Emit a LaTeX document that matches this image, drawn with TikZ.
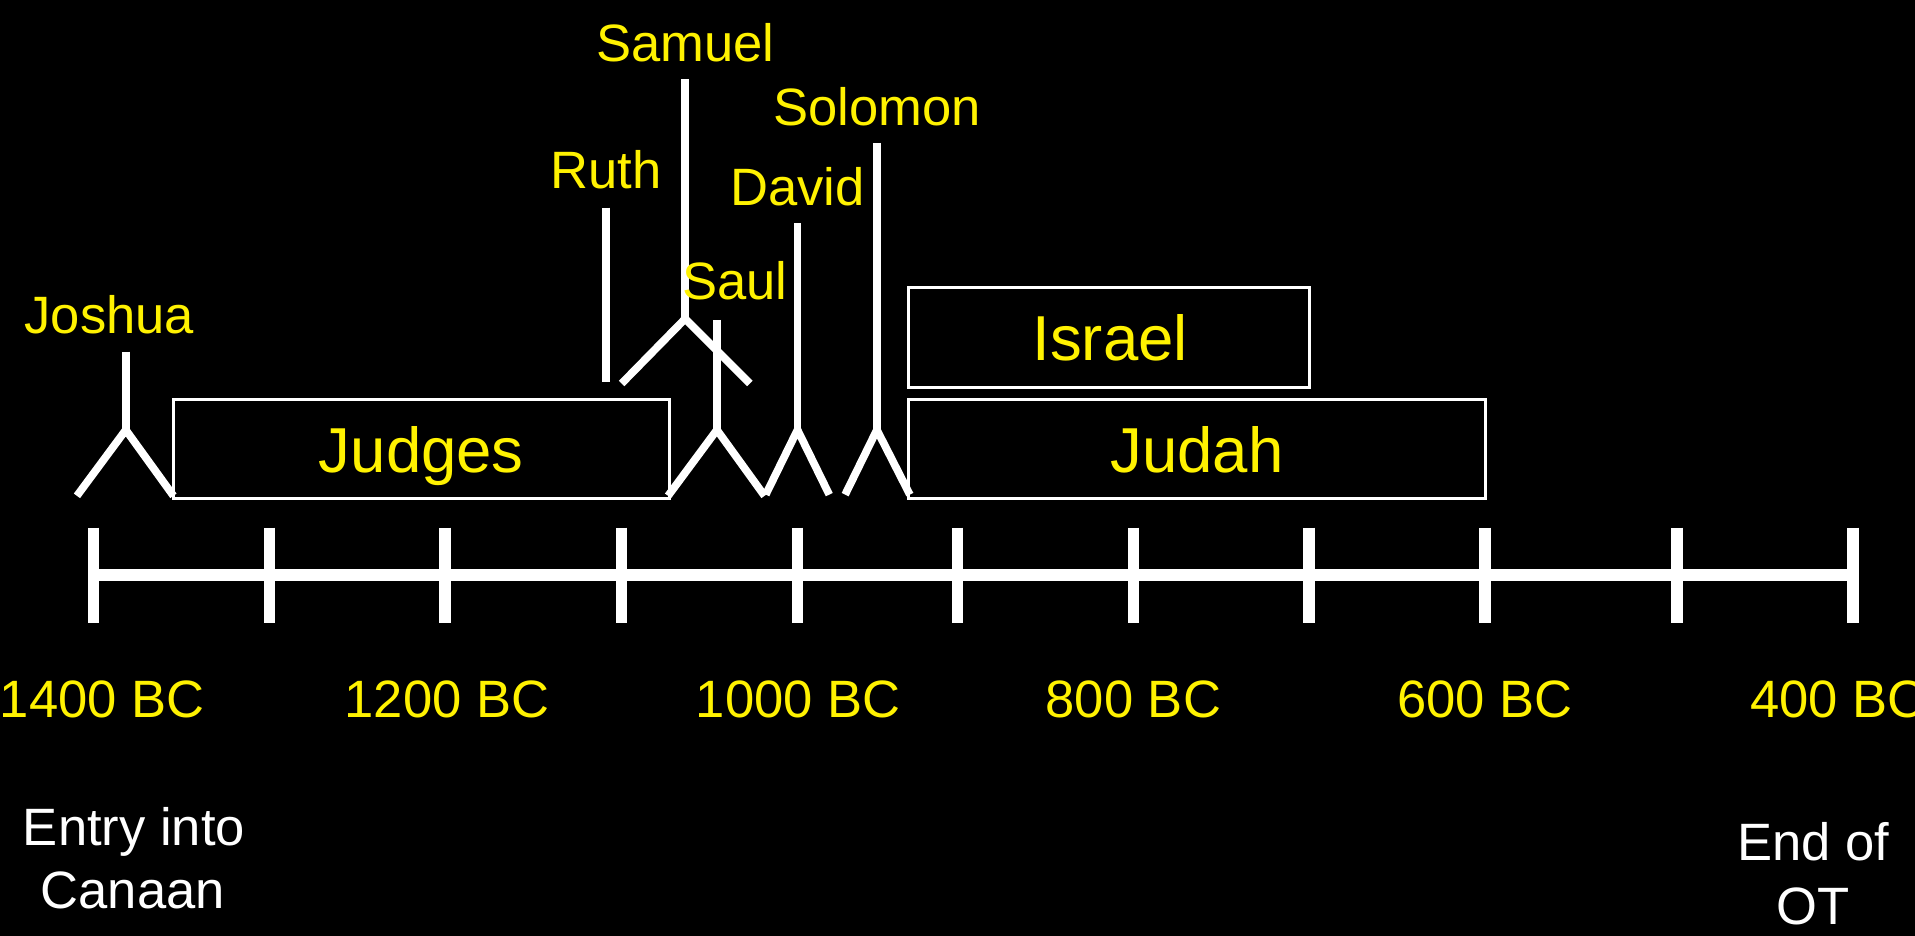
\documentclass[tikz,border=0pt]{standalone}
\usepackage{fontspec}
\setmainfont{Liberation Sans}
\begin{document}
\begin{tikzpicture}[x=0.02cm,y=-0.02cm,
  stick/.style={draw=white, line width=3.6pt},
  bar/.style={draw=white, line width=5.7pt},
  tickmark/.style={draw=white, line width=5.4pt},
  era/.style={draw=white, line width=1.4pt, fill=black, inner sep=0pt},
  who/.style={text=yellow, font=\fontsize{24.5}{29}\selectfont, anchor=base, inner sep=0pt},
  note/.style={text=white, font=\fontsize{24.5}{29}\selectfont, anchor=base, inner sep=0pt},
  eralbl/.style={text=yellow, font=\fontsize{29.6}{35}\selectfont, anchor=base, inner sep=0pt}]
\fill[black] (0,0) rectangle (1568,766);
\useasboundingbox (0,0) rectangle (1568,766);

% era boxes
\node[era, minimum width=8.12cm, minimum height=1.62cm] (judgesbox) at (345,367.5) {};
\node[era, minimum width=6.56cm, minimum height=1.64cm] (israelbox) at (908,276) {};
\node[era, minimum width=9.44cm, minimum height=1.62cm] (judahbox) at (980,367.5) {};
\node[eralbl] (judges) at (345,387) {Judges};
\node[eralbl] (israel) at (909,295.5) {Israel};
\node[eralbl] (judah) at (980,387) {Judah};

% stick figures
\coordinate (jo-t) at (103,288); \coordinate (jo-j) at (103,352);
\coordinate (jo-l) at (63,406);  \coordinate (jo-r) at (142,406);
\draw[stick] (jo-t) -- (jo-j); \draw[stick] (jo-l) -- (jo-j) -- (jo-r);

\coordinate (ru-t) at (496,170); \coordinate (ru-b) at (496,313);
\draw[stick] (ru-t) -- (ru-b);

\coordinate (sa-t) at (561,65);  \coordinate (sa-j) at (561,261);
\coordinate (sa-l) at (509,314); \coordinate (sa-r) at (614,314);
\draw[stick] (sa-t) -- (sa-j); \draw[stick] (sa-l) -- (sa-j) -- (sa-r);

\coordinate (su-t) at (587,262); \coordinate (su-j) at (587,352);
\coordinate (su-l) at (547,406); \coordinate (su-r) at (626,406);
\draw[stick] (su-t) -- (su-j); \draw[stick] (su-l) -- (su-j) -- (su-r);

\coordinate (da-t) at (653,183); \coordinate (da-j) at (653,352);
\coordinate (da-l) at (627,405); \coordinate (da-r) at (679,405);
\draw[stick] (da-t) -- (da-j); \draw[stick] (da-l) -- (da-j) -- (da-r);

\coordinate (so-t) at (718,117); \coordinate (so-j) at (718,352);
\coordinate (so-l) at (692,405); \coordinate (so-r) at (745,405);
\draw[stick] (so-t) -- (so-j); \draw[stick] (so-l) -- (so-j) -- (so-r);

% names
\node[who] (joshua) at (89.5,273) {Joshua};
\node[who] (ruth) at (496,154) {Ruth};
\node[who] (samuel) at (561,50.5) {Samuel};
\node[who] (saul) at (601.8,245.6) {Saul};
\node[who] (david) at (653,168) {David};
\node[who] (solomon) at (718,102.4) {Solomon};

% axis
\coordinate (ax0) at (76.5,471);
\coordinate (ax10) at (1517,471);
\draw[bar] (ax0) -- (ax10);
\foreach \i/\x in {0/76.5,1/220.5,2/364.5,3/509,4/653,5/784,6/928,7/1072,8/1216,9/1373,10/1517}{
  \coordinate (tk\i-a) at (\x,432);
  \coordinate (tk\i-b) at (\x,510);
  \draw[tickmark] (tk\i-a) -- (tk\i-b);
}

% years
\node[who] (y1400) at (83.7,587.3) {1400 BC};
\node[who] (y1200) at (366,587.3) {1200 BC};
\node[who] (y1000) at (653.5,587.3) {1000 BC};
\node[who] (y800) at (928,587.3) {800 BC};
\node[who] (y600) at (1216,587.3) {600 BC};
\node[who] (y400) at (1505,587.3) {400 BC};

% notes
\node[note] (entry1) at (109.7,692) {Entry into};
\node[note] (entry2) at (108.7,743.7) {Canaan};
\node[note] (end1) at (1484.6,704.7) {End of};
\node[note] (end2) at (1484.7,756.6) {OT};
\end{tikzpicture}
\end{document}
